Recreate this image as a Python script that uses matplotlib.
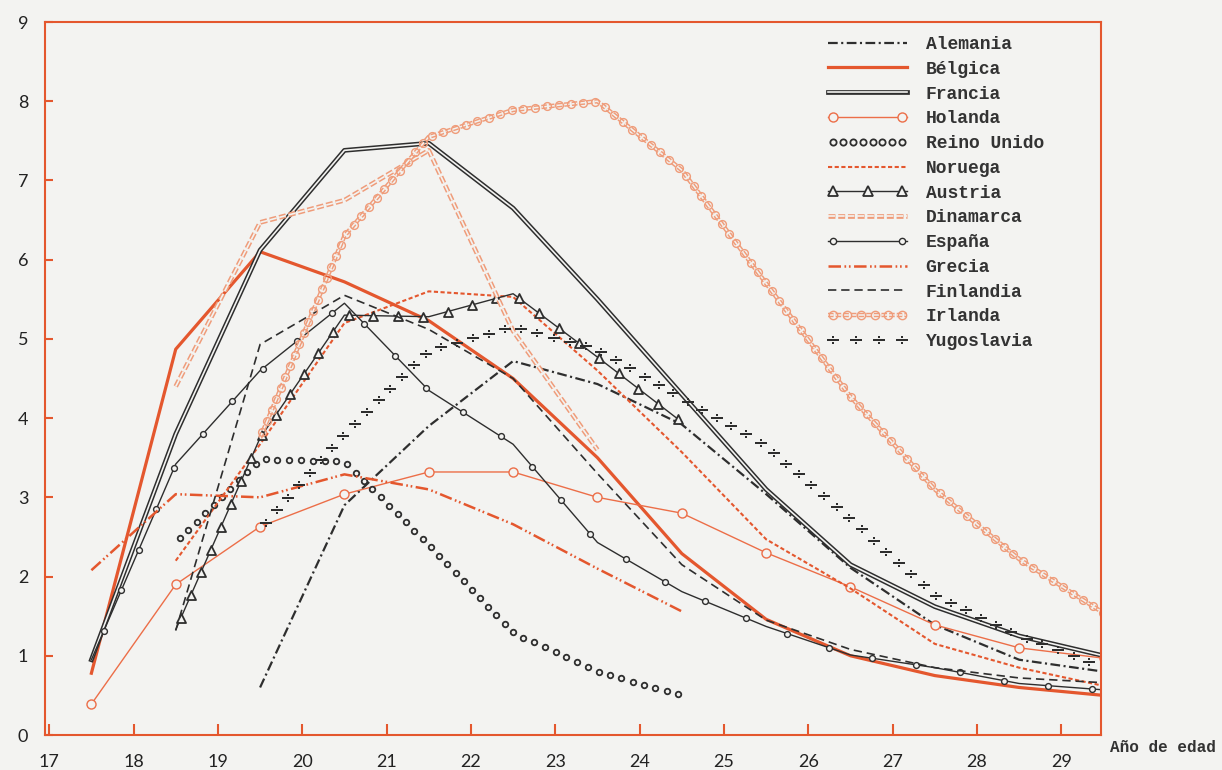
import numpy as np
import matplotlib
matplotlib.use("Agg")
import matplotlib.pyplot as plt
import matplotlib.patheffects as pe
import matplotlib.transforms as mtransforms
from matplotlib.lines import Line2D
from matplotlib.path import Path
from matplotlib.markers import MarkerStyle
from matplotlib.colors import to_rgba
from matplotlib.legend_handler import HandlerLine2D
from matplotlib.font_manager import FontProperties

plt.rcParams['lines.scale_dashes'] = False

BG = "#f3f3f1"
RED = "#e4572e"
SALMON = "#ef9c7a"
DARK = "#2e2e2e"

# ages (half years) and rates per series, None = no value
ages = [17.5, 18.5, 19.5, 20.5, 21.5, 22.5, 23.5, 24.5, 25.5, 26.5, 27.5, 28.5, 29.5]

alemania   = [None, None, 0.6, 2.9, 3.9, 4.72, 4.43, 3.92, 3.04, 2.11, 1.39, 0.95, 0.8]
belgica    = [0.78, 4.87, 6.1, 5.72, 5.23, 4.5, 3.5, 2.29, 1.46, 1.0, 0.75, 0.6, 0.5]
francia    = [0.95, 3.8, 6.12, 7.38, 7.47, 6.65, 5.5, 4.3, 3.1, 2.15, 1.62, 1.25, 1.0]
holanda    = [0.39, 1.9, 2.63, 3.04, 3.32, 3.32, 3.0, 2.8, 2.3, 1.87, 1.39, 1.1, 0.97]
reino      = [None, 2.43, 3.48, 3.45, 2.4, 1.29, 0.8, 0.5, None, None, None, None, None]
noruega    = [None, 2.2, 3.67, 5.2, 5.6, 5.53, 4.6, 3.57, 2.47, 1.85, 1.15, 0.85, 0.62]
austria    = [None, 1.33, 3.75, 5.3, 5.28, 5.57, 4.77, 3.95, None, None, None, None, None]
dinamarca  = [None, 4.4, 6.47, 6.75, 7.38, 5.1, 3.6, None, None, None, None, None, None]
espana     = [0.95, 3.42, 4.6, 5.45, 4.35, 3.67, 2.43, 1.81, 1.37, 1.01, 0.85, 0.65, 0.57]
grecia     = [2.08, 3.04, 3.0, 3.29, 3.1, 2.66, 2.1, 1.56, None, None, None, None, None]
finlandia  = [None, 1.32, 4.93, 5.55, 5.12, 4.5, 3.3, 2.15, 1.45, 1.08, 0.85, 0.72, 0.66]
irlanda    = [None, None, 3.75, 6.3, 7.55, 7.89, 8.0, 7.13, 5.7, 4.27, 3.1, 2.22, 1.54]
yugoslavia = [None, None, 2.6, 3.8, 4.85, 5.15, 4.87, 4.25, 3.65, 2.72, 1.77, 1.25, 0.86]

x_ticks = list(range(17, 30))
y_ticks = list(range(0, 10))


class MarkersAlong(pe.AbstractPathEffect):
    """Stamp a marker every `spacing` points along the drawn line."""

    def __init__(self, marker, size, spacing, color, face=None, mew=1.0, start=0.5):
        super().__init__()
        ms = MarkerStyle(marker)
        self.mpath = ms.get_path().transformed(ms.get_transform())
        self.size, self.spacing, self.mew, self.start = size, spacing, mew, start
        self.color = color
        self.face = face

    def draw_path(self, renderer, gc, tpath, affine, rgbFace=None):
        v = affine.transform(tpath.vertices)
        d = np.hypot(*np.diff(v, axis=0).T)
        cum = np.concatenate([[0], np.cumsum(d)])
        step = renderer.points_to_pixels(self.spacing)
        t = np.arange(self.start * step, cum[-1], step)
        pos = np.column_stack([np.interp(t, cum, v[:, 0]), np.interp(t, cum, v[:, 1])])
        gc0 = renderer.new_gc()
        gc0.copy_properties(gc)
        gc0.set_dashes(0, None)
        gc0.set_linewidth(self.mew)
        gc0.set_foreground(self.color)
        face = None if self.face is None else to_rgba(self.face)
        mtrans = mtransforms.Affine2D().scale(renderer.points_to_pixels(self.size))
        renderer.draw_markers(gc0, self.mpath, mtrans, Path(pos),
                              mtransforms.IdentityTransform(), face)
        gc0.restore()


def pts(vals):
    x = [a for a, v in zip(ages, vals) if v is not None]
    y = [v for v in vals if v is not None]
    return x, y


def double(col, outer, inner):
    return [pe.Stroke(linewidth=outer, foreground=col),
            pe.Stroke(linewidth=inner, foreground=BG)]


# label, values, line style, legend marker style, marker effect along line, legend markers
series = [
    ("Alemania", alemania, dict(color=DARK, lw=1.6, dashes=(7, 2.5, 1.5, 2.5)), None, None, 1),
    ("Bélgica", belgica, dict(color=RED, lw=2.3), None, None, 1),
    ("Francia", francia, dict(color=DARK, lw=1, path_effects=double(DARK, 3.4, 1.2)), None, None, 1),
    ("Holanda", holanda, dict(color="#ec6e48", lw=1.0),
     dict(marker="o", ms=6.5, mfc=BG, mec="#ec6e48", mew=1.0), "points", 2),
    ("Reino Unido", reino, None,
     dict(marker="o", ms=4.5, mfc=BG, mec=DARK, mew=1.3),
     MarkersAlong("o", 4.0, 8.5, DARK, face=BG, mew=1.3), 8),
    ("Noruega", noruega, dict(color=RED, lw=1.5, dashes=(3, 1.8)), None, None, 1),
    ("Austria", austria, dict(color=DARK, lw=1.0),
     dict(marker="^", ms=7, mfc=BG, mec=DARK, mew=1.3),
     MarkersAlong("^", 6.5, 18.0, DARK, face=BG, mew=1.3), 3),
    ("Dinamarca", dinamarca, dict(color=SALMON, lw=1, dashes=(5, 2),
                                  path_effects=double(SALMON, 3.4, 1.2)), None, None, 1),
    ("España", espana, dict(color=DARK, lw=1.0),
     dict(marker="o", ms=4.5, mfc=BG, mec=DARK, mew=1.0),
     MarkersAlong("o", 4.2, 32.0, DARK, face=BG, mew=1.0, start=0.7), 2),
    ("Grecia", grecia, dict(color=RED, lw=1.8, dashes=(9, 2.5, 1.2, 2, 1.2, 2.5)), None, None, 1),
    ("Finlandia", finlandia, dict(color=DARK, lw=1.2, dashes=(6, 3.5)), None, None, 1),
    ("Irlanda", irlanda, dict(color=SALMON, lw=1, dashes=(4, 1.5),
                              path_effects=double(SALMON, 3.2, 1.1)),
     dict(marker="o", ms=6.0, mfc="none", mec=SALMON, mew=1.0),
     MarkersAlong("o", 5.6, 8.6, SALMON, face=None, mew=1.0), 6),
    ("Yugoslavia", yugoslavia, None,
     dict(marker="$\\div$", ms=8, color=DARK, mec=DARK, mew=0),
     MarkersAlong("$\\div$", 8.0, 12.0, DARK, face=DARK, mew=0.0), 4),
]

fig = plt.figure(figsize=(12.22, 7.70), dpi=100, facecolor=BG)
ax = fig.add_axes([45 / 1222, 35 / 770, 1056 / 1222, 713 / 770], facecolor=BG)

handles, labels, hmap = [], [], {}
for label, vals, lkw, mkw, along, npts in series:
    x, y = pts(vals)
    h = []
    if lkw is not None:
        kw = dict(lkw)
        if isinstance(along, MarkersAlong):
            kw["path_effects"] = kw.get("path_effects", [pe.Normal()]) + [along]
        ax.plot(x, y, **kw)
        h.append(Line2D([], [], **lkw))
    elif isinstance(along, MarkersAlong):
        ax.plot(x, y, color=DARK, lw=1, path_effects=[along])
    if along == "points":
        ax.plot(x, y, ls="none", **mkw)
    if mkw is not None:
        m = Line2D([], [], ls="none", **mkw)
        hmap[m] = HandlerLine2D(numpoints=npts)
        h.append(m)
    handles.append(tuple(h) if len(h) > 1 else h[0])
    labels.append(label)

ax.set_xlim(16.95, 29.47)
ax.set_ylim(0, 9)
ax.set_xticks(x_ticks)
ax.set_yticks(y_ticks)
for s in ax.spines.values():
    s.set_color(RED)
    s.set_linewidth(1.5)
ax.tick_params(axis="x", direction="in", length=8, width=1.5, color=RED, pad=14,
               labelsize=13, labelcolor="#222222")
ax.tick_params(axis="y", direction="in", length=6, width=1.5, color=RED, pad=12,
               labelsize=13, labelcolor="#222222")
for t in ax.get_xticklabels() + ax.get_yticklabels():
    t.set_family("Lato")

leg = ax.legend(handles, labels, handler_map=hmap, loc="upper left",
                bbox_to_anchor=(828 / 1222, 1 - 36 / 770), bbox_transform=fig.transFigure,
                frameon=False, prop=FontProperties(family="Liberation Mono", weight="bold", size=13),
                handlelength=4.4, handletextpad=1.0, labelspacing=0.43,
                borderpad=0, borderaxespad=0)
for t in leg.get_texts():
    t.set_color("#333333")

fig.text(1110 / 1222, 1 - 748 / 770, "Año de edad", family="Liberation Mono",
         weight="bold", size=11.5, color="#333333", va="center", ha="left")

fig.savefig("out.png", dpi=100, facecolor=BG)
